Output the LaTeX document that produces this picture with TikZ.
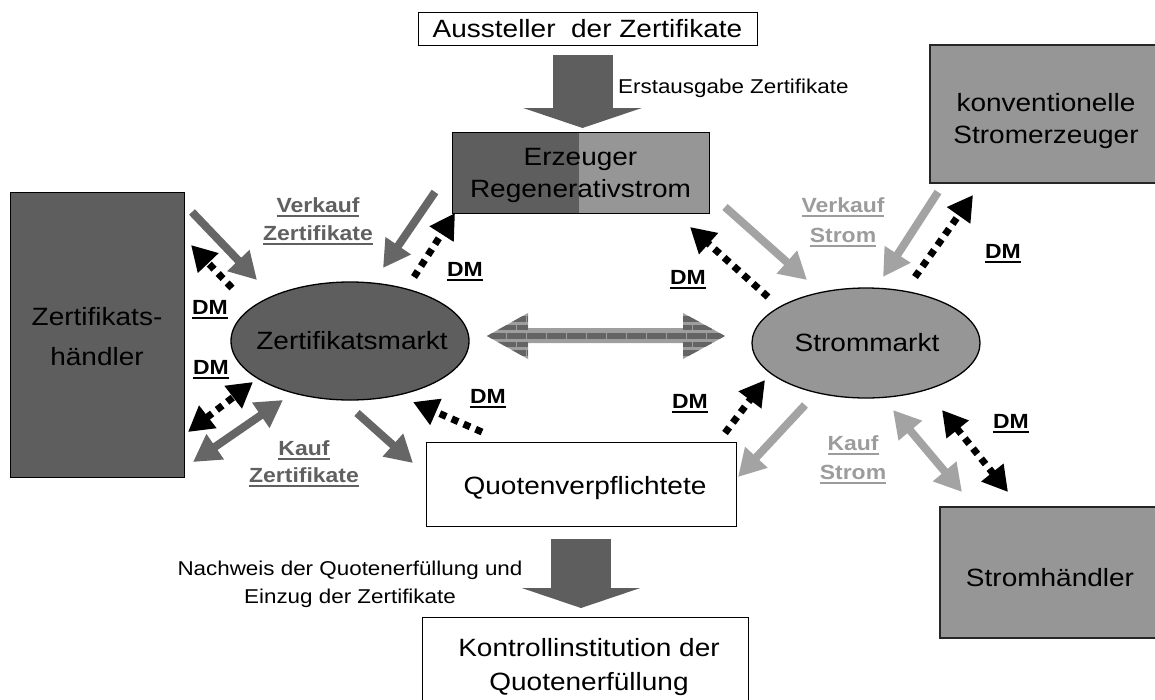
\documentclass[tikz,border=0pt]{standalone}
\usepackage{fontspec}
\setmainfont{Liberation Sans}[FakeStretch=1.12]
\usetikzlibrary{arrows.meta,shapes.geometric}

\definecolor{cdark}{HTML}{5E5E5E}
\definecolor{clight}{HTML}{969696}
\definecolor{adark}{HTML}{666666}
\definecolor{alight}{HTML}{A3A3A3}
\definecolor{tdark}{HTML}{606060}
\definecolor{tlight}{HTML}{9C9C9C}
\definecolor{brickbg}{HTML}{9E9E9E}
\definecolor{brickfg}{HTML}{646464}

% underlined label line
\newcommand\undl[1]{\leavevmode\vtop{\hbox{#1}\kern2.5pt\hrule height 2pt}}

\tikzset{
  whitebox/.style={draw=black, line width=1pt, fill=white, inner sep=0pt},
  graybox/.style={draw=black!85, line width=1.2pt, inner sep=0pt},
  boxfont/.style={font=\fontsize{25}{33}\selectfont, align=center, inner sep=0pt},
  lab/.style={font=\bfseries\fontsize{20.5}{28}\selectfont, align=center, inner sep=0pt},
  note/.style={font=\fontsize{20}{28}\selectfont, align=center, inner sep=0pt},
  garrow/.style={line width=8pt, -{Triangle[width=29pt,length=27pt]}},
  gdarrow/.style={line width=8pt, {Triangle[width=29pt,length=27pt]}-{Triangle[width=29pt,length=27pt]}},
  dmarrow/.style={draw=black, line width=7pt, dash pattern=on 7pt off 6pt, -{Triangle[width=27pt,length=25pt]}},
  dmdarrow/.style={draw=black, line width=7pt, dash pattern=on 7pt off 6pt, {Triangle[width=27pt,length=25pt]}-{Triangle[width=27pt,length=25pt]}},
  bigarrow/.style={draw=cdark, line width=60pt, -{Triangle[width=118pt,length=20pt]}},
  brick/.style={draw=brickfg, line width=5.5pt, dash pattern=on 18.5pt off 1.5pt},
}

\begin{document}
\begin{tikzpicture}[x=1pt,y=-1pt]
\useasboundingbox (0,0) rectangle (1155,699);

% ---------- boxes ----------
\node[whitebox, boxfont, minimum width=339, minimum height=33] (aus) at (587.5,28.5) {Aussteller~ der Zertifikate};

\node[draw=black, line width=1pt, fill=clight, minimum width=257, minimum height=81, inner sep=0pt,
      path picture={\fill[cdark] (path picture bounding box.north west) rectangle ([xshift=127pt]path picture bounding box.south west);}] (erz) at (580.5,172.5) {};
\node[boxfont, font=\fontsize{25}{32}\selectfont] (erztxt) at (580.5,175) {Erzeuger\\Regenerativstrom};

\node[graybox, fill=clight, minimum width=232, minimum height=138] (kon) at (1046,114) {};
\node[boxfont, font=\fontsize{25}{32}\selectfont] (kontxt) at (1046,121) {konventionelle\\Stromerzeuger};

\node[draw=black, line width=1pt, fill=cdark, minimum width=174, minimum height=285, inner sep=0pt] (zh) at (97,334.5) {};
\node[boxfont, font=\fontsize{25}{40}\selectfont] (zhtxt) at (97,337) {Zertifikats-\\händler};

\node[ellipse, draw=black, line width=1.3pt, fill=cdark, minimum width=238, minimum height=118, inner sep=0pt] (zm) at (350,341) {};
\node[boxfont] (zmtxt) at (352,341) {Zertifikatsmarkt};

\node[ellipse, draw=black, line width=1.3pt, fill=clight, minimum width=228, minimum height=110, inner sep=0pt] (sm) at (866,343) {};
\node[boxfont] (smtxt) at (867,343) {Strommarkt};

\node[whitebox, minimum width=310, minimum height=84] (quo) at (581,484) {};
\node[boxfont] (quotxt) at (585,488.5) {Quotenverpflichtete};

\node[graybox, fill=clight, minimum width=232, minimum height=131] (sh) at (1056,572.5) {};
\node[boxfont] (shtxt) at (1050,578) {Stromhändler};

\node[whitebox, minimum width=326, minimum height=110] (ktr) at (585,672) {};
\node[boxfont, font=\fontsize{25}{34}\selectfont] (ktrtxt) at (589,667.5) {Kontrollinstitution der\\Quotenerfüllung};

% ---------- wide vertical arrows ----------
\coordinate (t1) at (582.5,55);
\coordinate (t2) at (582.5,128);
\draw[bigarrow] (t1) -- (t2);
\node[note, anchor=west] (erst) at (618,88) {Erstausgabe Zertifikate};

\coordinate (b1) at (581,539);
\coordinate (b2) at (581,608);
\draw[bigarrow] (b1) -- (b2);
\node[note] (nach) at (350,584) {Nachweis der Quotenerfüllung und\\Einzug der Zertifikate};

% ---------- double arrow between the two markets ----------
\coordinate (mL) at (487,336);
\coordinate (mR) at (725,336);
\begin{scope}
  \clip (mL) -- (528,313) -- (528,328) -- (683,328) -- (683,313) -- (mR) -- (683,359) -- (683,343) -- (528,343) -- (528,359) -- cycle;
  \fill[brickbg] (480,305) rectangle (730,365);
  \draw[brick] (mL) -- (mR);
  \foreach \dy/\ph in {-17/0,-8.5/10,8.5/10,17/0}{
    \draw[brick, dash phase=\ph pt] (487,{336+\dy}) -- (528,{336+\dy});
    \draw[brick, dash phase=\ph pt] (683,{336+\dy}) -- (725,{336+\dy});
  }
\end{scope}

% ---------- certificate flows ----------
\coordinate (c1s) at (192,212);  \coordinate (c1e) at (257,280);
\coordinate (c2s) at (435,192);  \coordinate (c2e) at (383,268);
\coordinate (c3s) at (193,462);  \coordinate (c3e) at (283,400);
\coordinate (c4s) at (357,413);  \coordinate (c4e) at (413,463);
\draw[garrow, draw=adark] (c1s) -- (c1e);
\draw[garrow, draw=adark] (c2s) -- (c2e);
\draw[gdarrow, draw=adark] (c3s) -- (c3e);
\draw[garrow, draw=adark] (c4s) -- (c4e);

% ---------- power flows ----------
\coordinate (p1s) at (725,207);  \coordinate (p1e) at (807,280);
\coordinate (p2s) at (938,192);  \coordinate (p2e) at (883,277);
\coordinate (p3s) at (805,405);  \coordinate (p3e) at (738,477);
\coordinate (p4s) at (893,410);  \coordinate (p4e) at (962,492);
\draw[garrow, draw=alight] (p1s) -- (p1e);
\draw[garrow, draw=alight] (p2s) -- (p2e);
\draw[garrow, draw=alight] (p3s) -- (p3e);
\draw[gdarrow, draw=alight] (p4s) -- (p4e);

% ---------- DM (dotted) flows ----------
\coordinate (d1s) at (232,288);  \coordinate (d1e) at (191,245);
\coordinate (d2s) at (414,277);  \coordinate (d2e) at (455,213);
\coordinate (d3s) at (188,432);  \coordinate (d3e) at (253,382);
\coordinate (d4s) at (482,432);  \coordinate (d4e) at (413,402);
\coordinate (d5s) at (768,297);  \coordinate (d5e) at (690,227);
\coordinate (d6s) at (915,277);  \coordinate (d6e) at (973,195);
\coordinate (d7s) at (725,433);  \coordinate (d7e) at (765,380);
\coordinate (d8s) at (942,410);  \coordinate (d8e) at (1008,492);
\draw[dmarrow] (d1s) -- (d1e);
\draw[dmarrow] (d2s) -- (d2e);
\draw[dmdarrow] (d3s) -- (d3e);
\draw[dmarrow] (d4s) -- (d4e);
\draw[dmarrow] (d5s) -- (d5e);
\draw[dmarrow] (d6s) -- (d6e);
\draw[dmarrow] (d7s) -- (d7e);
\draw[dmdarrow] (d8s) -- (d8e);

% ---------- labels ----------
\node[lab, text=tdark] (lvz) at (318,221) {\undl{Verkauf}\\\undl{Zertifikate}};
\node[lab, text=tdark, font=\bfseries\fontsize{20.5}{27}\selectfont] (lkz) at (304,463.5) {\undl{Kauf}\\\undl{Zertifikate}};
\node[lab, text=tlight, font=\bfseries\fontsize{20.5}{30}\selectfont] (lvs) at (843,222) {\undl{Verkauf}\\\undl{Strom}};
\node[lab, text=tlight, font=\bfseries\fontsize{20.5}{29}\selectfont] (lks) at (853,459.5) {\undl{Kauf}\\\undl{Strom}};

\node[lab] (dm1) at (210,310) {\undl{DM}};
\node[lab] (dm2) at (211,370) {\undl{DM}};
\node[lab] (dm3) at (465,272) {\undl{DM}};
\node[lab] (dm4) at (488,399) {\undl{DM}};
\node[lab] (dm5) at (688,280) {\undl{DM}};
\node[lab] (dm6) at (1003,254) {\undl{DM}};
\node[lab] (dm7) at (690,404) {\undl{DM}};
\node[lab] (dm8) at (1011,424) {\undl{DM}};
\end{tikzpicture}
\end{document}
